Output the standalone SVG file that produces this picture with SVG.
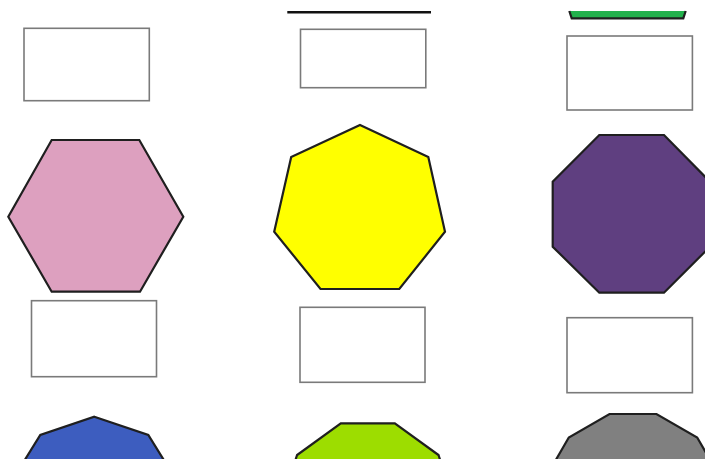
<svg xmlns="http://www.w3.org/2000/svg" width="705" height="459" viewBox="0 0 705 459">
  <style>
    .box { fill: #ffffff; stroke: #7a7a7a; stroke-width: 1.6; }
    .poly { stroke: #1f1f1f; stroke-width: 2.2; stroke-linejoin: miter; }
  </style>
  <rect x="0" y="0" width="705" height="459" fill="#ffffff"/>

  <g id="top-shape-middle">
    <line x1="287.3" y1="12.3" x2="431" y2="12.3" stroke="#111111" stroke-width="2.5"/>
  </g>
  <g id="top-shape-right">
    <polygon points="569.3,11 685.7,11 683.3,18.3 571.7,18.3" fill="#22b14c"/>
    <polyline points="569.3,11 571.7,18.3 683.3,18.3 685.7,11" fill="none" stroke="#1f1f1f" stroke-width="2.2"/>
  </g>

  <g id="box-1"><rect class="box" x="24" y="28.3" width="125.3" height="72.4"/></g>
  <g id="box-2"><rect class="box" x="300.5" y="29.3" width="125.3" height="58.4"/></g>
  <g id="box-3"><rect class="box" x="567" y="36" width="125.4" height="74"/></g>

  <g id="hexagon">
    <polygon class="poly" fill="#dda0bf" points="51.7,140 139.3,140 183.3,216.7 140,291.7 51.7,291.7 8.3,216.7"/>
  </g>
  <g id="heptagon">
    <polygon class="poly" fill="#ffff00" points="360,125 428.3,157 445,231.7 399.3,289 320.5,289 274.2,231.7 291.2,157"/>
  </g>
  <g id="octagon">
    <polygon class="poly" fill="#5f3f80" points="599.3,135 664,135 710,181.7 710,246.7 664,292.7 599.3,292.7 552.7,246.7 552.7,181.7"/>
  </g>

  <g id="box-4"><rect class="box" x="31.5" y="300.7" width="125" height="76"/></g>
  <g id="box-5"><rect class="box" x="300" y="307.3" width="125" height="75"/></g>
  <g id="box-6"><rect class="box" x="567" y="317.7" width="125.4" height="75"/></g>

  <g id="nonagon">
    <polygon class="poly" fill="#3d5dbf" points="94.3,416.7 148.3,435 177,481.2 167,533.7 123,568 65.6,568 21.6,533.7 11.6,481.2 40.3,435"/>
  </g>
  <g id="decagon">
    <polygon class="poly" fill="#9ddd00" points="340.8,423.3 394.8,423.3 438.5,455 455.2,506.4 438.5,557.8 394.8,589.5 340.8,589.5 297.1,557.8 280.4,506.4 297.1,455"/>
  </g>
  <g id="dodecagon">
    <polygon class="poly" fill="#808080" points="609.5,414 656.5,414 697.2,437.5 720.7,478.2 720.7,525.2 697.2,565.9 656.5,589.4 609.5,589.4 568.8,565.9 545.3,525.2 545.3,478.2 568.8,437.5"/>
  </g>

  <g id="connectors"/>
</svg>
